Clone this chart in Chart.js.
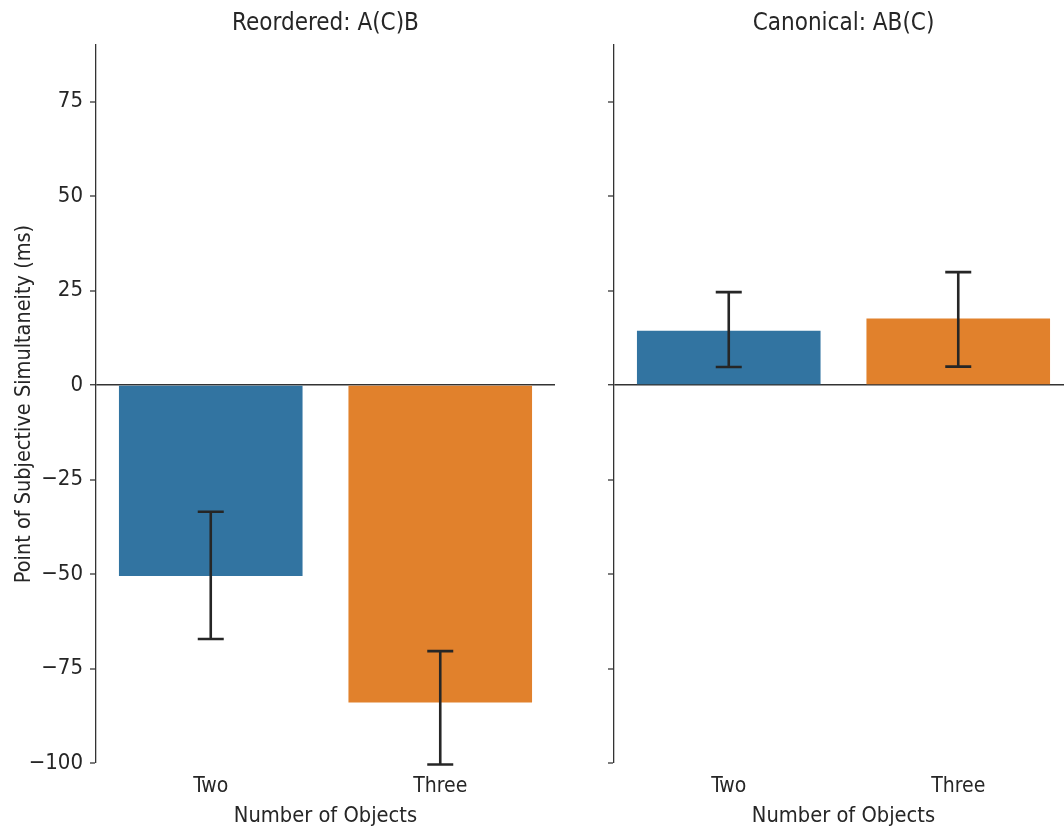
<!DOCTYPE html>
<html>
<head>
<meta charset="utf-8">
<script src="https://cdn.jsdelivr.net/npm/chart.js@4.4.1/dist/chart.umd.min.js"></script>
<style>
  html, body { margin: 0; padding: 0; background: #ffffff; overflow: hidden; }
  #wrap { position: relative; width: 1064px; height: 831px; overflow: hidden; }
  canvas { position: absolute; top: 0; }
</style>
</head>
<body>
<div id="wrap">
  <canvas id="left" width="580" height="831" style="left:0px"></canvas>
  <canvas id="right" width="493" height="831" style="left:580px"></canvas>
</div>
<script>
// ---- data ----
const categories = ['Two', 'Three'];
const panelTitles = ['Reordered: A(C)B', 'Canonical: AB(C)'];
const reorderedMeans = [-50.5, -84.0];
const reorderedLow = [-67.2, -100.4];
const reorderedHigh = [-33.5, -70.4];
const canonicalMeans = [14.4, 17.6];
const canonicalLow = [4.8, 4.9];
const canonicalHigh = [24.6, 29.9];
const yTicks = [-100, -75, -50, -25, 0, 25, 50, 75];
const yMin = -100;
const yMax = 90;
const barColors = ['#3274a1', '#e1812c'];
const xAxisTitle = 'Number of Objects';
const yAxisTitle = 'Point of Subjective Simultaneity (ms)';

const FONT = "'DejaVu Sans Condensed', 'Liberation Sans Narrow', 'Arial Narrow', sans-serif";
const INK = '#262626';

Chart.defaults.font.family = FONT;
Chart.defaults.color = INK;

function errorBarPlugin(low, high) {
  return {
    id: 'errbars',
    afterDatasetsDraw(chart) {
      const ctx = chart.ctx;
      const meta = chart.getDatasetMeta(0);
      const y = chart.scales.y;
      ctx.save();
      ctx.strokeStyle = INK;
      ctx.lineWidth = 2.6;
      ctx.lineCap = 'butt';
      meta.data.forEach((bar, i) => {
        const x = bar.x;
        const yl = y.getPixelForValue(low[i]);
        const yh = y.getPixelForValue(high[i]);
        const cw = 13;
        ctx.beginPath();
        ctx.moveTo(x, yl); ctx.lineTo(x, yh);
        ctx.moveTo(x - cw, yl); ctx.lineTo(x + cw, yl);
        ctx.moveTo(x - cw, yh); ctx.lineTo(x + cw, yh);
        ctx.stroke();
      });
      ctx.restore();
    }
  };
}

function panelTitlePlugin(text) {
  return {
    id: 'panelTitle',
    afterDraw(chart) {
      const ctx = chart.ctx;
      const a = chart.chartArea;
      ctx.save();
      ctx.fillStyle = INK;
      ctx.font = "24px " + FONT;
      ctx.textAlign = 'center';
      ctx.textBaseline = 'middle';
      ctx.fillText(text, (a.left + a.right) / 2, 24);
      ctx.restore();
    }
  };
}

function makeChart(id, means, low, high, title, showYLabels, yWidth, padRight) {
  return new Chart(document.getElementById(id), {
    type: 'bar',
    data: {
      labels: categories,
      datasets: [{
        data: means,
        backgroundColor: barColors,
        borderWidth: 0,
        barPercentage: 0.8,
        categoryPercentage: 1.0
      }]
    },
    options: {
      responsive: false,
      animation: false,
      devicePixelRatio: 1,
      layout: { padding: { top: 45, right: padRight, bottom: 0, left: 0 } },
      plugins: { legend: { display: false }, tooltip: { enabled: false }, title: { display: false } },
      scales: {
        x: {
          offset: true,
          grid: { display: false },
          border: { display: false },
          ticks: { color: INK, font: { size: 21 }, padding: 3 },
          title: { display: true, text: xAxisTitle, color: INK, font: { size: 21.7 }, padding: { top: 0, bottom: 2 } },
          afterFit(scale) { scale.height = 68; }
        },
        y: {
          min: yMin,
          max: yMax,
          afterBuildTicks(scale) { scale.ticks = yTicks.map(v => ({ value: v })); },
          grid: {
            drawOnChartArea: true,
            drawTicks: true,
            tickLength: 6,
            tickWidth: 1.2,
            tickColor: INK,
            color: c => (c.tick && c.tick.value === 0) ? '#333333' : 'rgba(0,0,0,0)',
            lineWidth: c => (c.tick && c.tick.value === 0) ? 1.5 : 0
          },
          border: { display: true, color: '#333333', width: 1.3 },
          ticks: {
            display: showYLabels,
            color: INK,
            font: { size: 22 },
            padding: 7,
            callback: v => (v < 0 ? '\u2212' + Math.abs(v) : String(v))
          },
          title: { display: showYLabels, text: yAxisTitle, color: INK, font: { size: 21.5 }, padding: { top: 11.5, bottom: 0 } },
          afterFit(scale) { scale.width = yWidth; }
        }
      }
    },
    plugins: [errorBarPlugin(low, high), panelTitlePlugin(title)]
  });
}

makeChart('left', reorderedMeans, reorderedLow, reorderedHigh, panelTitles[0], true, 96, 25);
makeChart('right', canonicalMeans, canonicalLow, canonicalHigh, panelTitles[1], false, 34, 0);
</script>
</body>
</html>
